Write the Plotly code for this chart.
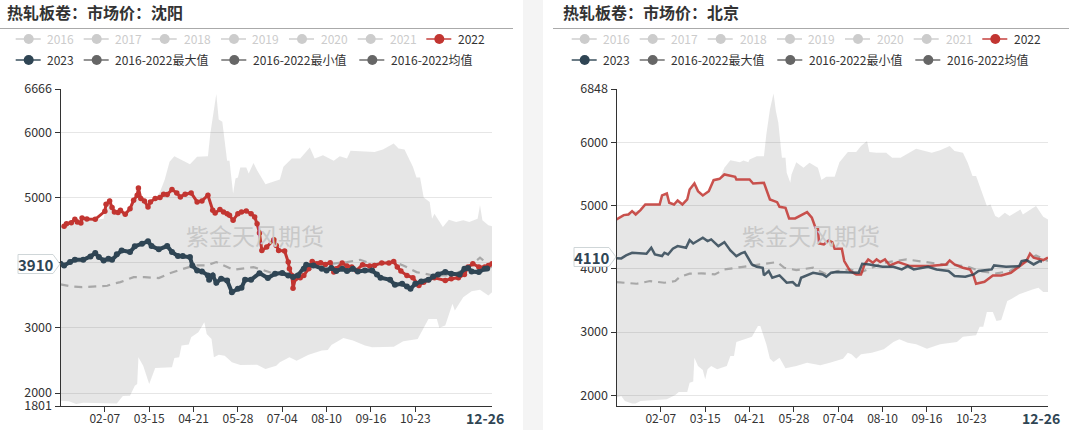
import plotly.graph_objects as go

W, H = 1071, 430

# x values are day numbers counted from 01-01 (leap year calendar, 12-26 = day 360)
tick_days = [37, 74, 111, 148, 185, 222, 259, 296]
tick_names = ['02-07', '03-15', '04-21', '05-28', '07-04', '08-10', '09-16', '10-23']

'''
-------------------------
        SHENYANG
-------------------------
'''
sy_2022_days = [3, 5, 9, 12, 14, 17, 18, 22, 29, 37, 38, 41, 43, 45, 48, 50, 54, 58, 61, 64, 65, 67, 70, 73, 75, 79, 83, 86, 89, 93, 97, 100, 104, 109, 114, 118, 123, 127, 129, 133, 136, 139, 141, 144, 148, 151, 155, 159, 162, 164, 166, 168, 172, 178, 180, 182, 187, 190, 191, 193, 194, 196, 200, 203, 207, 210, 214, 217, 221, 225, 228, 230, 235, 239, 243, 247, 252, 258, 262, 268, 274, 278, 281, 284, 289, 294, 299, 303, 307, 312, 321, 326, 332, 337, 340, 344, 349, 354, 357, 360]
sy_2022 = [4559, 4599, 4615, 4666, 4625, 4610, 4687, 4671, 4666, 4789, 4897, 4948, 4846, 4779, 4769, 4805, 4743, 4830, 4958, 5035, 5148, 4984, 4948, 4856, 4933, 4984, 5000, 5051, 5046, 5122, 5071, 5010, 5051, 5071, 4933, 4948, 5035, 4805, 4764, 4815, 4779, 4753, 4728, 4651, 4753, 4779, 4794, 4753, 4702, 4599, 4456, 4189, 4240, 4353, 4266, 4189, 4179, 4010, 3907, 3805, 3610, 3754, 3769, 3805, 3907, 4020, 3984, 4000, 3974, 4000, 3856, 3907, 3995, 3948, 3933, 3882, 3969, 3948, 3959, 3995, 3995, 4020, 3933, 3871, 3805, 3769, 3651, 3702, 3738, 3769, 3728, 3754, 3769, 3820, 3933, 3984, 3933, 3933, 3959, 3984]

sy_2023_days = [0, 3, 8, 12, 19, 25, 29, 32, 36, 40, 43, 47, 51, 58, 62, 68, 73, 76, 82, 89, 93, 98, 102, 108, 110, 114, 118, 123, 124, 127, 130, 134, 139, 143, 148, 151, 154, 159, 166, 173, 179, 185, 190, 194, 198, 203, 205, 211, 218, 222, 226, 230, 235, 239, 244, 248, 254, 260, 264, 267, 275, 279, 285, 289, 292, 296, 301, 307, 311, 315, 321, 326, 333, 337, 340, 343, 349, 354, 356]
sy_2023 = [3984, 3959, 4010, 4046, 4046, 4097, 4148, 4087, 4035, 4061, 4046, 4128, 4189, 4164, 4251, 4292, 4328, 4256, 4205, 4256, 4164, 4102, 4102, 4087, 3959, 3882, 3866, 3805, 3738, 3805, 3692, 3753, 3728, 3548, 3600, 3615, 3738, 3738, 3840, 3764, 3830, 3841, 3805, 3779, 3805, 3907, 3969, 3959, 3907, 3882, 3918, 3871, 3907, 3871, 3907, 3866, 3882, 3882, 3820, 3769, 3738, 3661, 3676, 3636, 3600, 3676, 3712, 3738, 3789, 3820, 3856, 3830, 3820, 3907, 3918, 3866, 3856, 3907, 3910]

sy_mean_days = [0, 9, 18, 29, 39, 44, 50, 61, 70, 82, 90, 100, 112, 122, 130, 144, 161, 177, 194, 205, 222, 239, 250, 261, 278, 286, 297, 311, 325, 339, 350, 358, 360]
sy_mean = [3667, 3636, 3625, 3636, 3646, 3677, 3702, 3779, 3779, 3764, 3830, 3892, 3959, 3959, 4010, 3892, 3933, 3840, 3804, 3881, 3974, 4010, 4045, 3974, 4010, 3958, 3856, 3804, 3804, 3907, 4076, 3958, 3930]

sy_max_days = [0, 12, 29, 36, 38, 41, 45, 50, 54, 58, 61, 65, 67, 73, 79, 83, 87, 91, 95, 101, 108, 114, 123, 125, 129, 130, 132, 135, 139, 141, 144, 146, 148, 150, 155, 157, 161, 164, 171, 183, 186, 193, 200, 208, 212, 219, 228, 233, 239, 242, 262, 269, 278, 282, 287, 292, 294, 297, 300, 303, 308, 310, 312, 319, 324, 330, 336, 341, 348, 350, 352, 357, 360]
sy_max = [4548, 4660, 4660, 4676, 4890, 4940, 4780, 4800, 4740, 4830, 4950, 5140, 4980, 4850, 4980, 5086, 5276, 5548, 5635, 5584, 5512, 5625, 5635, 5983, 6496, 6588, 6199, 6163, 5563, 5563, 5061, 5291, 5307, 5460, 5460, 5368, 5532, 5420, 5204, 5276, 5471, 5599, 5599, 5768, 5599, 5650, 5563, 5635, 5599, 5717, 5701, 5737, 5830, 5753, 5737, 5548, 5471, 5307, 5307, 5000, 4932, 4676, 4753, 4548, 4661, 4625, 4650, 4625, 4676, 4881, 4650, 4574, 4558]

sy_min_days = [0, 7, 13, 19, 47, 52, 58, 62, 64, 65, 69, 74, 79, 86, 93, 95, 99, 101, 107, 109, 115, 120, 122, 126, 128, 132, 137, 143, 150, 164, 171, 180, 183, 191, 197, 207, 218, 223, 226, 236, 244, 254, 260, 278, 286, 298, 307, 314, 316, 321, 327, 329, 336, 343, 350, 357, 360]
sy_min = [1882, 1872, 1831, 1851, 1841, 1954, 1959, 2113, 2138, 2548, 2420, 2138, 2384, 2395, 2395, 2538, 2548, 2728, 2743, 2856, 2933, 3087, 2907, 2830, 2548, 2589, 2574, 2471, 2430, 2435, 2369, 2420, 2471, 2548, 2497, 2589, 2651, 2661, 2738, 2846, 2805, 2728, 2702, 2712, 2794, 2830, 3138, 3138, 3000, 3035, 3369, 3266, 3471, 3563, 3584, 3497, 3548]

'''
-------------------------
        BEIJING
-------------------------
'''
bj_2022_days = [0, 6, 10, 13, 16, 20, 24, 36, 38, 42, 44, 48, 51, 55, 59, 61, 65, 68, 72, 77, 81, 86, 90, 99, 100, 111, 114, 123, 128, 134, 136, 141, 144, 149, 159, 163, 166, 168, 169, 173, 177, 180, 182, 188, 190, 195, 200, 204, 207, 210, 214, 217, 220, 224, 228, 235, 245, 261, 275, 278, 282, 289, 295, 298, 300, 307, 314, 321, 329, 336, 342, 345, 348, 356, 359, 360]
bj_2022 = [4783, 4852, 4862, 4915, 4862, 4931, 5020, 5020, 5163, 5194, 5047, 5020, 5084, 5020, 5099, 5258, 5353, 5231, 5163, 5231, 5405, 5426, 5495, 5458, 5416, 5416, 5352, 5363, 5099, 5057, 4983, 4968, 4799, 4799, 4899, 4810, 4651, 4651, 4403, 4388, 4451, 4424, 4319, 4319, 4124, 3966, 3913, 3913, 4071, 4150, 4098, 4150, 4108, 4150, 4055, 4108, 4045, 4045, 4071, 4134, 4071, 4019, 3992, 3887, 3765, 3797, 3897, 3897, 3939, 4045, 4124, 4240, 4177, 4140, 4177, 4180]

bj_2023_days = [0, 4, 8, 13, 25, 29, 32, 38, 40, 43, 47, 51, 58, 61, 64, 72, 76, 79, 85, 90, 95, 100, 104, 107, 113, 117, 122, 123, 127, 130, 136, 142, 147, 150, 152, 154, 164, 172, 175, 179, 184, 202, 205, 211, 222, 231, 238, 243, 248, 260, 267, 277, 282, 291, 298, 302, 313, 315, 325, 336, 338, 342, 348, 353, 355]
bj_2023 = [4170, 4166, 4213, 4256, 4240, 4335, 4229, 4203, 4256, 4229, 4319, 4361, 4335, 4456, 4403, 4493, 4440, 4467, 4361, 4424, 4293, 4203, 4245, 4266, 4071, 4034, 4018, 3897, 3966, 3860, 3897, 3781, 3792, 3739, 3739, 3860, 3939, 3913, 3876, 3939, 3950, 3939, 4082, 4071, 4034, 4034, 3992, 4045, 3992, 4034, 3992, 3966, 3887, 3876, 3913, 3966, 3992, 4055, 4034, 4045, 4124, 4140, 4071, 4124, 4113]

bj_mean_days = [0, 17, 28, 40, 49, 53, 61, 71, 82, 90, 104, 122, 134, 140, 150, 164, 175, 184, 195, 203, 223, 242, 256, 272, 292, 303, 317, 328, 339, 350, 360]
bj_mean = [3792, 3765, 3808, 3781, 3808, 3876, 3924, 3929, 3913, 3992, 4029, 4071, 4108, 4018, 3982, 4019, 3913, 3966, 3993, 3940, 4098, 4151, 4109, 4072, 4045, 3966, 3929, 3966, 4098, 4214, 4124]

bj_max_days = [0, 6, 13, 20, 24, 36, 38, 42, 44, 48, 51, 55, 59, 61, 65, 68, 72, 77, 81, 86, 90, 95, 99, 103, 106, 110, 111, 117, 123, 125, 128, 131, 133, 135, 138, 141, 142, 145, 146, 150, 156, 161, 168, 171, 175, 182, 186, 193, 200, 204, 209, 211, 217, 225, 230, 237, 250, 263, 270, 278, 282, 289, 293, 297, 300, 305, 309, 312, 316, 319, 324, 328, 337, 339, 350, 356, 360]
bj_max = [4783, 4852, 4915, 4931, 5020, 5020, 5160, 5190, 5050, 5020, 5084, 5020, 5099, 5258, 5353, 5231, 5163, 5231, 5405, 5426, 5601, 5722, 5706, 5690, 5717, 5690, 5733, 5785, 5785, 6128, 6524, 6777, 6497, 6313, 5759, 5759, 5522, 5364, 5495, 5690, 5601, 5680, 5601, 5406, 5458, 5458, 5690, 5849, 5849, 5944, 6023, 5849, 5838, 5838, 5759, 5759, 5901, 5838, 5880, 5944, 5865, 5838, 5680, 5469, 5469, 5205, 4994, 5021, 4836, 4810, 4889, 4836, 4942, 4863, 4994, 4826, 4784]

bj_min_days = [0, 4, 7, 13, 16, 20, 42, 49, 52, 59, 61, 64, 65, 68, 72, 74, 76, 79, 84, 92, 95, 98, 100, 107, 113, 118, 120, 125, 128, 131, 136, 141, 150, 159, 170, 178, 189, 193, 196, 200, 204, 213, 223, 231, 236, 243, 250, 259, 270, 284, 289, 300, 303, 306, 309, 314, 317, 321, 326, 329, 336, 347, 352, 356, 360]
bj_min = [1963, 1989, 1910, 1868, 1868, 1910, 1936, 2005, 2052, 2052, 2200, 2216, 2595, 2463, 2400, 2252, 2411, 2463, 2411, 2463, 2622, 2622, 2843, 2885, 2927, 3096, 3096, 2806, 2579, 2527, 2595, 2427, 2463, 2516, 2474, 2516, 2579, 2674, 2648, 2579, 2648, 2674, 2727, 2843, 2885, 2832, 2806, 2738, 2806, 2843, 2927, 2948, 3086, 3086, 3318, 3318, 3175, 3191, 3492, 3518, 3597, 3676, 3703, 3634, 3634]


def px(x):
    return x / W


def py(y):
    return 1 - y / H


fig = go.Figure()
shapes = []
notes = []


def note(x, y, text, size=12, color='#333333', anchor='left', family='Noto Sans CJK SC'):
    notes.append(dict(
        x=px(x), y=py(y), xref='paper', yref='paper', text=text, showarrow=False,
        xanchor=anchor, yanchor='middle', xshift=0, yshift=0, borderpad=0,
        font=dict(size=size, color=color, family=family),
    ))


def legend_item(dx, cx, tx, y, name, color, text_color):
    shapes.append(dict(type='line', xref='paper', yref='paper', x0=px(dx + cx - 13), x1=px(dx + cx + 12),
                       y0=py(y), y1=py(y), line=dict(color=color, width=2), opacity=0.7))
    shapes.append(dict(type='circle', xref='paper', yref='paper', x0=px(dx + cx - 5), x1=px(dx + cx + 5),
                       y0=py(y + 5), y1=py(y - 5), fillcolor=color, line=dict(width=0)))
    note(dx + tx, y - 0.5, name, color=text_color)


def panel(n, dx, title, ymin, ymax, yticks, watermark, last, label_y, data, beads):
    xname, yname = ('x', 'y') if n == 1 else ('x%d' % n, 'y%d' % n)
    lo_d, lo, hi_d, hi, mean_d, mean, d22, v22, d23, v23 = data

    fig.add_trace(go.Scatter(x=lo_d, y=lo, mode='lines', line=dict(width=0), xaxis=xname, yaxis=yname))
    fig.add_trace(go.Scatter(x=hi_d, y=hi, mode='lines', line=dict(width=0), fill='tonexty',
                             fillcolor='rgba(120,120,120,0.19)', xaxis=xname, yaxis=yname))
    fig.add_trace(go.Scatter(x=mean_d, y=mean, mode='lines', xaxis=xname, yaxis=yname,
                             line=dict(color='#a8a8a8', width=2.2, dash='8px,6px')))
    if beads:
        fig.add_trace(go.Scatter(x=d22, y=v22, mode='lines+markers', xaxis=xname, yaxis=yname,
                                 line=dict(color='#c23531', width=3), marker=dict(size=5.5, color='#c23531')))
        fig.add_trace(go.Scatter(x=d23, y=v23, mode='lines+markers', xaxis=xname, yaxis=yname,
                                 line=dict(color='#2f4554', width=4), marker=dict(size=6, color='#2f4554')))
    else:
        fig.add_trace(go.Scatter(x=d22, y=v22, mode='lines', xaxis=xname, yaxis=yname, opacity=0.85,
                                 line=dict(color='#c23531', width=2.5)))
        fig.add_trace(go.Scatter(x=d23, y=v23, mode='lines', xaxis=xname, yaxis=yname, opacity=0.85,
                                 line=dict(color='#2f4554', width=2.5)))

    xkey, ykey = ('xaxis', 'yaxis') if n == 1 else ('xaxis%d' % n, 'yaxis%d' % n)
    fig.update_layout({
        xkey: dict(domain=[px(dx + 60.5), px(dx + 492)], range=[0, 360], anchor=yname, automargin=False,
                   tickmode='array', tickvals=tick_days, ticktext=tick_names, ticks='outside',
                   ticklen=5, tickcolor='#333333', showgrid=False, zeroline=False, ticklabelstandoff=-3,
                   showline=True, linecolor='#333333', linewidth=1,
                   tickfont=dict(size=12, color='#333333', family='Noto Sans CJK SC')),
        ykey: dict(domain=[py(406), py(89)], range=[ymin, ymax], anchor=xname, automargin=False,
                   tickmode='array', tickvals=yticks, ticktext=[str(v) for v in yticks], ticks='outside',
                   ticklen=5, tickcolor='#333333', showgrid=True, gridcolor='#e6e6e6', gridwidth=1,
                   zeroline=False, showline=True, linecolor='#333333', linewidth=1,
                   tickfont=dict(size=12.5, color='#333333', family='Noto Sans CJK SC')),
    })

    note(dx + 6, 12, '<b>' + title + '</b>', size=16, color='#333333')
    shapes.append(dict(type='line', xref='paper', yref='paper', x0=px(dx - 3 if dx else 0), x1=px(dx + 513),
                       y0=py(28.5), y1=py(28.5), line=dict(color='#aaaaaa', width=1)))

    for cx, tx, name in [(28.7, 45.5, '2016'), (96.7, 114, '2017'), (164.7, 183, '2018'), (234, 251, '2019'),
                         (302, 320, '2020'), (370.7, 389, '2021')]:
        legend_item(dx, cx, tx, 39, name, '#cccccc', '#cccccc')
    legend_item(dx, 439.3, 457, 39, '2022', '#c23531', '#333333')
    legend_item(dx, 28.7, 45.5, 60, '2023', '#2f4554', '#333333')
    legend_item(dx, 96.7, 114, 60, '2016-2022最大值', '#666666', '#333333')
    legend_item(dx, 234.3, 252, 60, '2016-2022最小值', '#666666', '#333333')
    legend_item(dx, 372.3, 390, 60, '2016-2022均值', '#666666', '#333333')

    note(dx + 255, 235, watermark, size=23, color='#c8c8c8', anchor='center')
    note(dx + 485, 418, '<b>12-26</b>', size=14, color='#2f4554', anchor='center')

    # value flag sitting on the y axis
    t, b = py(label_y - 9.5), py(label_y + 9.5)
    path = 'M %f %f L %f %f L %f %f L %f %f L %f %f Z' % (
        px(dx + 18), t, px(dx + 53), t, px(dx + 60), py(label_y), px(dx + 53), b, px(dx + 18), b)
    shapes.append(dict(type='path', xref='paper', yref='paper', path=path, fillcolor='white',
                       line=dict(color='#cfd6d8', width=1), layer='above'))
    note(dx + 35.5, label_y, '<b>' + last + '</b>', size=15, color='#2f4554', anchor='center')


panel(1, 0, '热轧板卷：市场价：沈阳', 1801, 6666, [1801, 2000, 3000, 4000, 5000, 6000, 6666], '紫金天风期货', '3910', 264,
      (sy_min_days, sy_min, sy_max_days, sy_max, sy_mean_days, sy_mean,
       sy_2022_days, sy_2022, sy_2023_days, sy_2023), True)
panel(2, 556, '热轧板卷：市场价：北京', 1830, 6848, [2000, 3000, 4000, 5000, 6000, 6848], '紫金天风期货', '4110', 257,
      (bj_min_days, bj_min, bj_max_days, bj_max, bj_mean_days, bj_mean,
       bj_2022_days, bj_2022, bj_2023_days, bj_2023), False)

# grey gutter between the two panels
shapes.append(dict(type='rect', xref='paper', yref='paper', x0=px(523), x1=px(543), y0=0, y1=1,
                   fillcolor='#f4f4f4', line=dict(width=0), layer='below'))

fig.update_layout(
    width=W, height=H, autosize=False, showlegend=False,
    margin=dict(l=0, r=0, t=0, b=0, pad=0),
    paper_bgcolor='white', plot_bgcolor='rgba(0,0,0,0)',
    shapes=shapes, annotations=notes,
)

fig.write_html('out.html', config=dict(displayModeBar=False),
               post_script="document.body.style.margin='0';")
